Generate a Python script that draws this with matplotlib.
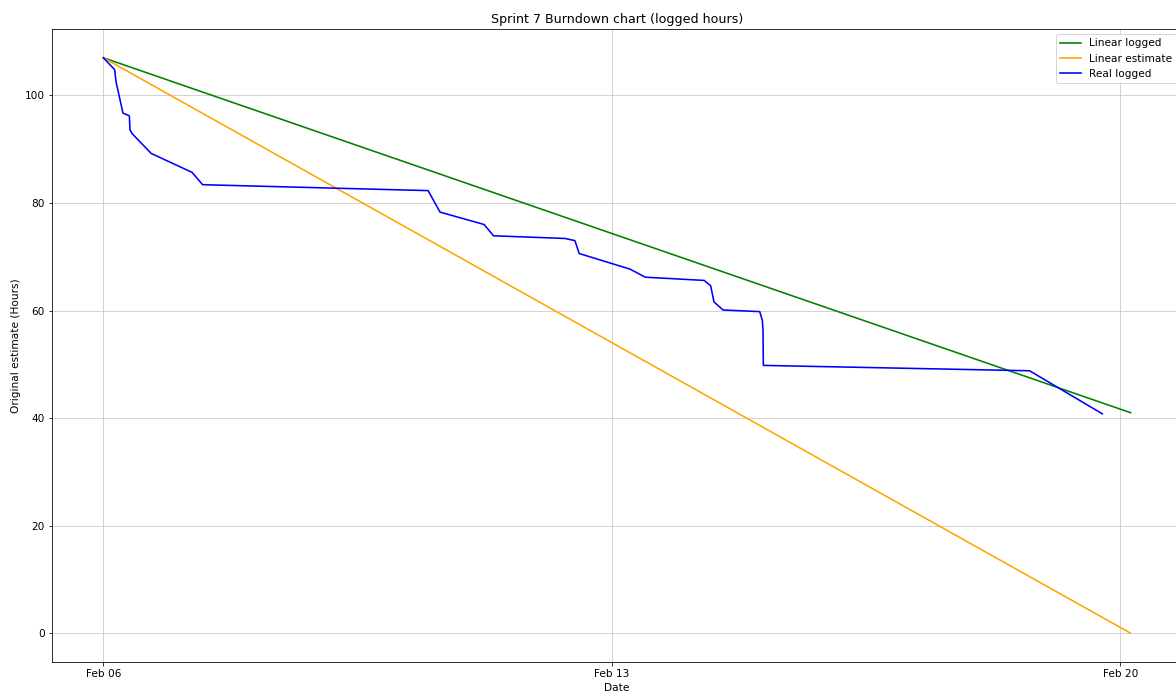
import matplotlib
matplotlib.use("Agg")
import matplotlib.pyplot as plt
import matplotlib.dates as mdates
import pandas as pd

plt.rcParams["font.size"] = 10.5

# Straight reference lines
line_times = ["2024-02-06 00:00", "2024-02-20 03:22"]
linear_logged = [107.0, 41.0]
linear_estimate = [107.0, 0.0]

# Real logged burndown
real_times = [
    "2024-02-06 00:00", "2024-02-06 03:43", "2024-02-06 04:12", "2024-02-06 06:29",
    "2024-02-06 08:35", "2024-02-06 08:48", "2024-02-06 09:29", "2024-02-06 15:50",
    "2024-02-07 05:17", "2024-02-07 08:47", "2024-02-10 11:17", "2024-02-10 15:14",
    "2024-02-11 05:46", "2024-02-11 08:53", "2024-02-12 08:31", "2024-02-12 11:46",
    "2024-02-12 13:12", "2024-02-13 06:00", "2024-02-13 11:02", "2024-02-14 06:29",
    "2024-02-14 08:38", "2024-02-14 09:43", "2024-02-14 12:43", "2024-02-15 00:50",
    "2024-02-15 01:41", "2024-02-15 01:55", "2024-02-15 02:02", "2024-02-18 18:00",
    "2024-02-19 18:00",
]
real_logged = [
    107.0, 104.8, 102.5, 96.7,
    96.2, 93.6, 92.9, 89.2,
    85.7, 83.4, 82.3, 78.3,
    76.0, 73.9, 73.4, 73.0,
    70.6, 67.7, 66.2, 65.6,
    64.6, 61.6, 60.1, 59.8,
    58.2, 56.3, 49.8, 48.8,
    40.8,
]

lt = pd.to_datetime(line_times)
rt = pd.to_datetime(real_times)

fig = plt.figure(figsize=(1176 / 72, 693 / 72), dpi=72)
ax = fig.add_axes([52 / 1176, 31 / 693, (1182 - 52) / 1176, (662 - 29) / 693])

ax.plot(lt, linear_logged, color="green", lw=1.6, label="Linear logged")
ax.plot(lt, linear_estimate, color="orange", lw=1.6, label="Linear estimate")
ax.plot(rt, real_logged, color="blue", lw=1.6, label="Real logged")

ax.xaxis.set_major_locator(mdates.DayLocator(bymonthday=[6, 13, 20]))
ax.xaxis.set_major_formatter(mdates.DateFormatter("%b %d"))
ax.grid(True, color="#c8c8c8")
ax.set_title("Sprint 7 Burndown chart (logged hours)")
ax.set_xlabel("Date")
ax.set_ylabel("Original estimate (Hours)")
ax.legend(loc="upper right")

fig.savefig("out.png", dpi=72)
